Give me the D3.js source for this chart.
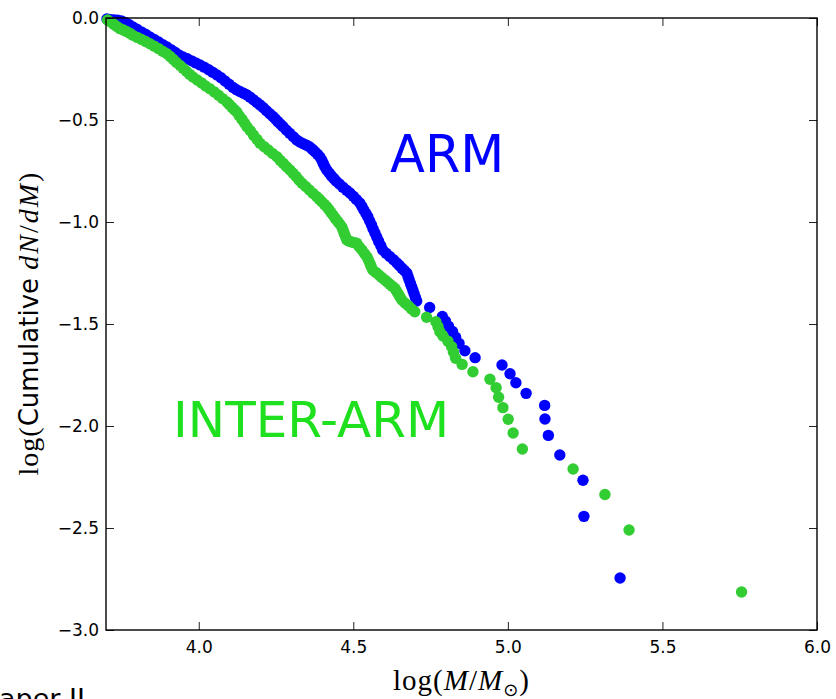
<!DOCTYPE html>
<html>
<head>
<meta charset="utf-8">
<script src="https://cdn.jsdelivr.net/npm/d3@7"></script>
<style>
  body { margin: 0; background: #fff; }
  svg { display: block; }
</style>
</head>
<body>
<div id="graph"></div>
<script>
let w = 836;
let h = 699;

// ARM sample: [log(M/Msun), log(cumulative dN/dM)]
let armPoints = [
  [3.703,-0.005],[3.715,-0.008],[3.727,-0.010],[3.738,-0.011],[3.750,-0.015],[3.762,-0.022],
  [3.774,-0.032],[3.787,-0.044],[3.800,-0.055],[3.814,-0.068],[3.828,-0.080],[3.842,-0.093],
  [3.856,-0.105],[3.870,-0.118],[3.884,-0.131],[3.897,-0.142],[3.910,-0.155],[3.923,-0.168],
  [3.936,-0.181],[3.949,-0.191],[3.963,-0.200],[3.977,-0.210],[3.990,-0.220],[4.004,-0.230],
  [4.018,-0.241],[4.032,-0.254],[4.045,-0.266],[4.059,-0.279],[4.072,-0.293],[4.085,-0.309],
  [4.098,-0.325],[4.111,-0.341],[4.122,-0.352],[4.133,-0.360],[4.145,-0.369],[4.156,-0.377],
  [4.166,-0.388],[4.177,-0.401],[4.188,-0.414],[4.198,-0.426],[4.209,-0.440],[4.219,-0.455],
  [4.230,-0.469],[4.240,-0.483],[4.248,-0.495],[4.256,-0.508],[4.264,-0.520],[4.272,-0.532],
  [4.283,-0.549],[4.294,-0.565],[4.306,-0.582],[4.317,-0.598],[4.327,-0.608],[4.338,-0.616],
  [4.349,-0.624],[4.359,-0.632],[4.368,-0.644],[4.376,-0.656],[4.384,-0.668],[4.392,-0.681],
  [4.398,-0.697],[4.403,-0.713],[4.408,-0.729],[4.414,-0.745],[4.422,-0.760],[4.429,-0.774],
  [4.437,-0.787],[4.444,-0.799],[4.455,-0.814],[4.466,-0.829],[4.478,-0.844],[4.489,-0.858],
  [4.500,-0.874],[4.510,-0.890],[4.521,-0.907],[4.528,-0.924],[4.534,-0.941],[4.541,-0.958],
  [4.547,-0.975],[4.553,-0.995],[4.559,-1.015],[4.564,-1.034],[4.570,-1.054],[4.576,-1.075],
  [4.582,-1.095],[4.589,-1.116],[4.595,-1.137],[4.606,-1.153],[4.618,-1.169],[4.630,-1.185],
  [4.641,-1.201],[4.649,-1.213],[4.657,-1.226],[4.665,-1.238],[4.673,-1.250],[4.677,-1.267],
  [4.681,-1.285],[4.685,-1.302],[4.689,-1.319],[4.693,-1.336],[4.697,-1.353],[4.701,-1.370],
  [4.705,-1.387],
  [4.747,-1.419],[4.788,-1.463],[4.798,-1.486],[4.808,-1.511],[4.821,-1.537],[4.831,-1.565],
  [4.842,-1.595],[4.861,-1.631],[4.894,-1.665],[4.981,-1.701],[5.007,-1.744],[5.026,-1.788],
  [5.059,-1.840],[5.119,-1.899],[5.120,-1.966],[5.131,-2.046],[5.168,-2.142],[5.243,-2.266],
  [5.246,-2.443],[5.363,-2.745]
];

// INTER-ARM sample
let interPoints = [
  [3.705,-0.010],[3.715,-0.020],[3.725,-0.031],[3.735,-0.042],[3.745,-0.052],[3.756,-0.059],
  [3.766,-0.066],[3.777,-0.075],[3.787,-0.085],[3.801,-0.095],[3.815,-0.105],[3.828,-0.115],
  [3.842,-0.126],[3.856,-0.138],[3.870,-0.150],[3.883,-0.163],[3.897,-0.175],[3.907,-0.188],
  [3.918,-0.203],[3.928,-0.218],[3.939,-0.232],[3.949,-0.246],[3.960,-0.261],[3.970,-0.275],
  [3.981,-0.289],[3.995,-0.304],[4.009,-0.318],[4.022,-0.333],[4.036,-0.347],[4.050,-0.362],
  [4.064,-0.379],[4.077,-0.395],[4.091,-0.412],[4.099,-0.424],[4.107,-0.437],[4.115,-0.449],
  [4.123,-0.461],[4.131,-0.479],[4.140,-0.497],[4.148,-0.515],[4.156,-0.533],[4.167,-0.553],
  [4.177,-0.574],[4.188,-0.594],[4.198,-0.614],[4.212,-0.631],[4.225,-0.647],[4.239,-0.664],
  [4.253,-0.680],[4.263,-0.697],[4.274,-0.713],[4.284,-0.729],[4.295,-0.745],[4.305,-0.761],
  [4.315,-0.777],[4.324,-0.794],[4.334,-0.810],[4.346,-0.826],[4.358,-0.843],[4.370,-0.860],
  [4.382,-0.876],[4.390,-0.888],[4.398,-0.901],[4.406,-0.913],[4.414,-0.925],[4.421,-0.939],
  [4.427,-0.952],[4.434,-0.966],[4.441,-0.981],[4.449,-0.996],[4.456,-1.010],[4.463,-1.025],
  [4.467,-1.041],[4.471,-1.057],[4.475,-1.072],[4.479,-1.088],[4.487,-1.094],[4.495,-1.098],
  [4.503,-1.101],[4.511,-1.104],[4.519,-1.121],[4.528,-1.137],[4.536,-1.154],[4.544,-1.170],
  [4.549,-1.186],[4.554,-1.203],[4.558,-1.219],[4.563,-1.235],[4.573,-1.247],[4.583,-1.260],
  [4.592,-1.272],[4.602,-1.284],[4.610,-1.294],[4.618,-1.305],[4.626,-1.315],[4.634,-1.325],
  [4.640,-1.339],[4.646,-1.354],[4.651,-1.368],[4.657,-1.382],[4.667,-1.397],[4.678,-1.411],
  [4.688,-1.426],[4.699,-1.440],
  [4.737,-1.467],[4.767,-1.489],[4.774,-1.513],[4.780,-1.538],[4.790,-1.559],[4.806,-1.584],
  [4.818,-1.611],[4.824,-1.638],[4.831,-1.668],[4.852,-1.698],[4.887,-1.734],[4.942,-1.771],
  [4.962,-1.812],[4.970,-1.859],[4.984,-1.910],[5.001,-1.967],[5.017,-2.034],[5.047,-2.113],
  [5.211,-2.211],[5.314,-2.336],[5.392,-2.510],[5.756,-2.814]
];

let xTicks = [4.0, 4.5, 5.0, 5.5, 6.0];
let yTicks = [0.0, -0.5, -1.0, -1.5, -2.0, -2.5, -3.0];

let xScale = d3.scaleLinear().domain([3.7, 6.0]).range([106, 817]);
let yScale = d3.scaleLinear().domain([-3.0, 0.0]).range([630, 18]);

let viz = d3.select("#graph")
  .append("svg")
    .attr("width", w)
    .attr("height", h)
;

viz.append("rect").attr("width", w).attr("height", h).attr("fill", "#fff");

let plot = viz.append("g").attr("class", "vizgroup");

plot.selectAll(".arm").data(armPoints).enter()
  .append("circle")
    .attr("class", "arm")
    .attr("cx", d => xScale(d[0]))
    .attr("cy", d => yScale(d[1]))
    .attr("r", 5.7)
    .attr("fill", "#0000ff")
;

plot.selectAll(".inter").data(interPoints).enter()
  .append("circle")
    .attr("class", "inter")
    .attr("cx", d => xScale(d[0]))
    .attr("cy", d => yScale(d[1]))
    .attr("r", 5.7)
    .attr("fill", "#32cd32")
;

let fmt = d3.format(".1f");

let xAxis = d3.axisBottom(xScale).tickValues(xTicks).tickFormat(fmt)
  .tickSizeInner(-8).tickSizeOuter(0).tickPadding(11);
let xTop = d3.axisTop(xScale).tickValues(xTicks).tickFormat("")
  .tickSizeInner(-8).tickSizeOuter(0);
let yAxis = d3.axisLeft(yScale).tickValues(yTicks).tickFormat(fmt)
  .tickSizeInner(-8).tickSizeOuter(0).tickPadding(7);
let yRight = d3.axisRight(yScale).tickValues(yTicks).tickFormat("")
  .tickSizeInner(-8).tickSizeOuter(0);

function styleAxis(g){
  g.select(".domain").remove();
  g.selectAll(".tick line").attr("stroke", "#222").attr("stroke-width", 1);
  g.selectAll(".tick text")
    .attr("fill", "#000")
    .style("font-family", "DejaVu Sans")
    .style("font-size", "17px");
}

viz.append("g").attr("class", "xaxis")
  .attr("transform", "translate(0," + yScale.range()[0] + ")")
  .call(xAxis).call(styleAxis);
viz.append("g").attr("class", "xaxis-top")
  .attr("transform", "translate(0," + yScale.range()[1] + ")")
  .call(xTop).call(styleAxis);
viz.append("g").attr("class", "yaxis")
  .attr("transform", "translate(" + xScale.range()[0] + ",0)")
  .call(yAxis).call(styleAxis);
viz.append("g").attr("class", "yaxis-right")
  .attr("transform", "translate(" + xScale.range()[1] + ",0)")
  .call(yRight).call(styleAxis);

// frame
viz.append("rect")
  .attr("x", xScale.range()[0])
  .attr("y", yScale.range()[1])
  .attr("width", xScale.range()[1] - xScale.range()[0])
  .attr("height", yScale.range()[0] - yScale.range()[1])
  .attr("fill", "none")
  .attr("stroke", "#000")
  .attr("stroke-width", 1.4)
;

// labels inside the plot
viz.append("text")
  .attr("x", 390).attr("y", 172)
  .text("ARM")
  .attr("fill", "#0000ff")
  .style("font-family", "DejaVu Sans")
  .style("font-size", "51px");

viz.append("text")
  .attr("x", 173).attr("y", 437)
  .text("INTER-ARM")
  .attr("fill", "#1ee01e")
  .style("font-family", "DejaVu Sans")
  .style("font-size", "50px");

// x label
let xCenter = (xScale.range()[0] + xScale.range()[1]) / 2;
let xl = viz.append("text")
  .attr("x", xCenter).attr("y", 690)
  .attr("text-anchor", "middle")
  .style("font-family", "Liberation Serif")
  .style("font-size", "29px")
  .style("letter-spacing", "1px")
  .attr("fill", "#000");
xl.append("tspan").text("log(");
xl.append("tspan").text("M").style("font-style", "italic");
xl.append("tspan").text("/");
xl.append("tspan").text("M").style("font-style", "italic");
xl.append("tspan").text("\u2299").attr("dy", 6).style("font-size", "18px").style("font-family", "DejaVu Sans");
xl.append("tspan").text(")").attr("dy", -6);

// y label
let yCenter = (yScale.range()[0] + yScale.range()[1]) / 2;
let yl = viz.append("text")
  .attr("transform", "translate(38," + yCenter + ") rotate(-90)")
  .attr("text-anchor", "middle")
  .attr("fill", "#000")
  .style("font-size", "28px");
yl.append("tspan").text("log(").style("font-family", "Liberation Serif").style("letter-spacing", "1px");
yl.append("tspan").text("Cumulative ").style("font-family", "DejaVu Sans").style("font-size", "26px");
yl.append("tspan").text("dN").style("font-family", "Liberation Serif").style("font-style", "italic").style("letter-spacing", "2px");
yl.append("tspan").text("/").style("font-family", "Liberation Serif").style("letter-spacing", "2px");
yl.append("tspan").text("dM").style("font-family", "Liberation Serif").style("font-style", "italic").style("letter-spacing", "2px");
yl.append("tspan").text(")").style("font-family", "Liberation Serif");

// clipped caption at the bottom left
viz.append("text")
  .attr("x", -16).attr("y", 708)
  .text("Paper II")
  .attr("fill", "#000")
  .style("font-family", "DejaVu Sans")
  .style("font-size", "27px");
</script>
</body>
</html>
